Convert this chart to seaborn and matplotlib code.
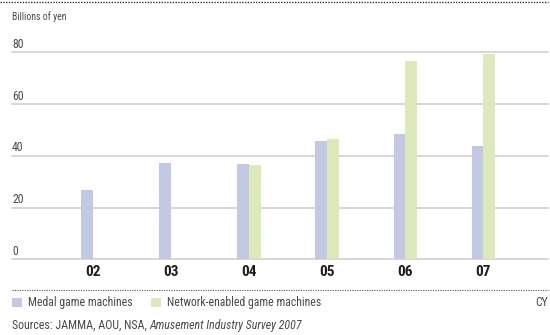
import matplotlib
matplotlib.use("Agg")
import matplotlib.pyplot as plt
from matplotlib import font_manager
from matplotlib.lines import Line2D
from matplotlib.patches import Rectangle
import numpy as np
import pandas as pd
import seaborn as sns

years = ["02", "03", "04", "05", "06", "07"]
medal = [26.8, 37.3, 36.8, 45.8, 48.5, 43.8]
network = [np.nan, np.nan, 36.5, 46.5, 76.7, 79.5]
series_names = ["Medal game machines", "Network-enabled game machines"]
y_ticks = [0, 20, 40, 60, 80]

df = pd.DataFrame({
    "year": years * 2,
    "value": medal + network,
    "series": [series_names[0]] * len(years) + [series_names[1]] * len(years),
})

sns.set_theme(style="white")
names = {f.name for f in font_manager.fontManager.ttflist}
narrow = next((n for n in ["Roboto Condensed", "Archivo Narrow", "PT Sans Narrow"] if n in names),
              "DejaVu Sans")
plt.rcParams["font.family"] = [narrow, "DejaVu Sans"]

colors = ["#c3c9e5", "#dbe9bb"]
grey_txt = "#4a4a4a"

W, H = 550, 335
fig = plt.figure(figsize=(W / 100, H / 100), dpi=100)
ax = fig.add_axes([12 / W, 1 - 259.3 / H, 536 / W, (259.3 - 52.5) / H])

sns.barplot(data=df, x="year", y="value", hue="series", palette=colors,
            width=0.3, dodge=True, ax=ax, legend=False, saturation=1)

ax.set_xlim(-1.04, 5.83)
ax.set_ylim(0, 80)
for v in y_ticks:
    ax.axhline(v, color="#d6d6d6", lw=1.4, zorder=0, clip_on=False)
    ax.text(0, v + 0.6, str(v), transform=ax.get_yaxis_transform(),
            ha="left", va="bottom", fontsize=8.5, color=grey_txt)
ax.set_yticks([])
ax.set_xlabel("")
ax.set_ylabel("")
ax.tick_params(axis="x", length=0, pad=4)
ax.set_xticks(range(len(years)))
ax.set_xticklabels(years, fontsize=11, fontweight="bold", color="#1e1e1e")
for s in ax.spines.values():
    s.set_visible(False)
for b in ax.patches:
    b.set_edgecolor("none")

# dotted rules
fig.add_artist(Line2D([0.0, 0.997], [1 - 1.5 / H] * 2, color="#333333",
                      lw=1.0, ls=(0, (1, 1)), transform=fig.transFigure))
fig.add_artist(Line2D([12 / W, 548 / W], [1 - 290 / H] * 2, color="#555555",
                      lw=0.8, ls=(0, (1, 1.2)), transform=fig.transFigure))

fig.text(12 / W, 1 - 17 / H, "Billions of yen", fontsize=7, color=grey_txt,
         ha="left", va="center")

# legend
ly = 1 - 302.5 / H
for x0, c, name in [(12, colors[0], series_names[0]), (151, colors[1], series_names[1])]:
    fig.add_artist(Rectangle((x0 / W, ly - 4.5 / H), 9.5 / W, 9 / H,
                             transform=fig.transFigure, color=c, lw=0))
    fig.text((x0 + 16) / W, ly, name, fontsize=8.5, color=grey_txt,
             ha="left", va="center")
fig.text(548 / W, ly, "CY", fontsize=8.5, color=grey_txt, ha="right", va="center")

src = fig.text(12 / W, 1 - 325 / H, "Sources: JAMMA, AOU, NSA, ", fontsize=8.6,
               color=grey_txt, ha="left", va="center")
fig.canvas.draw()
bb = src.get_window_extent()
fig.text(bb.x1 / W, 1 - 325 / H, "Amusement Industry Survey 2007", fontsize=8.6,
         style="italic", color=grey_txt, ha="left", va="center")

fig.savefig("out.png", dpi=100)
